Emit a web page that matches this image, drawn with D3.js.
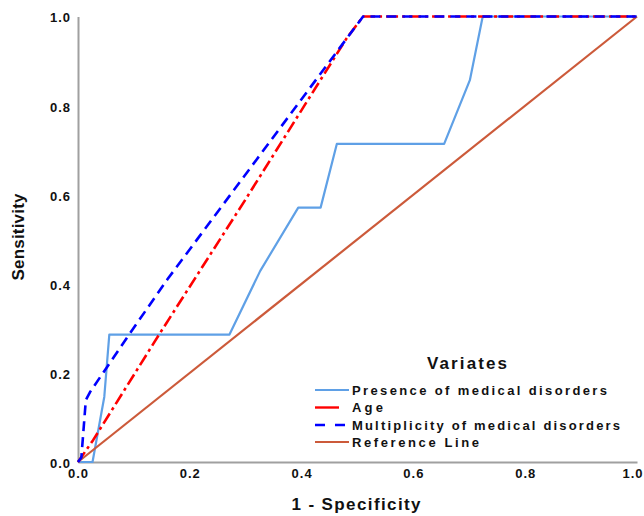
<!DOCTYPE html>
<html>
<head>
<meta charset="utf-8">
<script src="https://cdn.jsdelivr.net/npm/d3@7"></script>
<style>
  html, body { margin: 0; padding: 0; background: #fff; }
  svg { display: block; font-family: "Liberation Sans", Arial, sans-serif; }
</style>
</head>
<body>
<svg id="chart" width="644" height="516"></svg>
<script>
// ---- Data ----
const xTicks = [0.0, 0.2, 0.4, 0.6, 0.8, 1.0];
const yTicks = [0.0, 0.2, 0.4, 0.6, 0.8, 1.0];

const seriesNames = ["Presence of medical disorders", "Age", "Multiplicity of medical disorders", "Reference Line"];

const presenceX = [0, 0.026, 0.047, 0.056, 0.271, 0.326, 0.394, 0.434, 0.463, 0.655, 0.701, 0.724, 1];
const presenceY = [0, 0, 0.146, 0.286, 0.286, 0.429, 0.571, 0.571, 0.714, 0.714, 0.857, 1, 1];

const ageX = [0, 0.027, 0.145, 0.30, 0.48, 0.51, 1];
const ageY = [0, 0.049, 0.286, 0.59, 0.95, 1, 1];

const multiX = [0, 0.006, 0.014, 0.022, 0.093, 0.16, 0.51, 1];
const multiY = [0, 0.01, 0.139, 0.158, 0.289, 0.41, 1, 1];

const refX = [0, 1];
const refY = [0, 1];

// ---- Layout ----
const svg = d3.select("#chart");
const x = d3.scaleLinear().domain([0, 1]).range([78, 637]);
const y = d3.scaleLinear().domain([0, 1]).range([462, 16.5]);

const zip = (xs, ys) => xs.map((v, i) => [v, ys[i]]);
const line = d3.line().x(d => x(d[0])).y(d => y(d[1]));

// axes
const xAxis = d3.axisBottom(x).tickValues(xTicks).tickFormat(d3.format(".1f")).tickSize(0).tickPadding(7);
const yAxis = d3.axisLeft(y).tickValues(yTicks).tickFormat(d3.format(".1f")).tickSize(0).tickPadding(7);

const gx = svg.append("g").attr("transform", `translate(0,${y(0)})`).call(xAxis);
const gy = svg.append("g").attr("transform", `translate(${x(0)},0)`).call(yAxis);

[gx, gy].forEach(g => {
  g.select(".domain").attr("stroke", "#a0a0a0").attr("stroke-width", 2);
  g.selectAll("text")
    .attr("fill", "#111")
    .attr("font-size", 13)
    .attr("font-weight", "bold")
    .attr("letter-spacing", "1px")
    .attr("font-family", "'Liberation Sans', Arial, sans-serif");
});
gy.selectAll("text").attr("dy", "0.42em");
// keep the last x label inside the window
gx.selectAll(".tick").filter(d => d === 1).select("text")
  .attr("text-anchor", "end").attr("x", 644 - x(1) - 1);

// series
const series = [
  { name: seriesNames[0], pts: zip(presenceX, presenceY), color: "#5fa0e6", width: 2.2, dash: null },
  { name: seriesNames[3], pts: zip(refX, refY), color: "#cc5a3a", width: 2.2, dash: null },
  { name: seriesNames[1], pts: zip(ageX, ageY), color: "#ff0000", width: 2.6, dash: "12,4,3,4" },
  { name: seriesNames[2], pts: zip(multiX, multiY), color: "#0000ff", width: 2.6, dash: "10,6" }
];

svg.append("g").selectAll("path").data(series).join("path")
  .attr("d", d => line(d.pts))
  .attr("fill", "none")
  .attr("stroke", d => d.color)
  .attr("stroke-width", d => d.width)
  .attr("stroke-dasharray", d => d.dash)
  .attr("stroke-linejoin", "round");

// axis titles
svg.append("text")
  .attr("x", 356).attr("y", 510)
  .attr("text-anchor", "middle")
  .attr("font-size", 17).attr("font-weight", "bold").attr("fill", "#111")
  .attr("textLength", 129).attr("lengthAdjust", "spacing")
  .text("1 - Specificity");

svg.append("text")
  .attr("transform", "translate(24,237) rotate(-90)")
  .attr("text-anchor", "middle")
  .attr("font-size", 17).attr("font-weight", "bold").attr("fill", "#111")
  .attr("textLength", 87).attr("lengthAdjust", "spacing")
  .text("Sensitivity");

// legend
const legendItems = [
  { name: seriesNames[0], color: "#5fa0e6", dash: null, w: 2.2, len: 255 },
  { name: seriesNames[1], color: "#ff0000", dash: "24,20", w: 2.4, len: 31 },
  { name: seriesNames[2], color: "#0000ff", dash: "10,10", w: 2.4, len: 268 },
  { name: seriesNames[3], color: "#cc5a3a", dash: null, w: 2.2, len: 127 }
];
const rowY = [390, 407.5, 425, 442];

svg.append("text")
  .attr("x", 467).attr("y", 369)
  .attr("text-anchor", "middle")
  .attr("font-size", 17).attr("font-weight", "bold").attr("fill", "#111")
  .attr("textLength", 80).attr("lengthAdjust", "spacing")
  .text("Variates");

const lg = svg.append("g").selectAll("g").data(legendItems).join("g")
  .attr("transform", (d, i) => `translate(0,${rowY[i]})`);
lg.append("line")
  .attr("x1", 315).attr("x2", 349).attr("y1", 0).attr("y2", 0)
  .attr("stroke", d => d.color).attr("stroke-width", d => d.w)
  .attr("stroke-dasharray", d => d.dash);
lg.append("text")
  .attr("x", 352).attr("y", 4.7)
  .attr("font-size", 13).attr("font-weight", "bold").attr("fill", "#111")
  .attr("textLength", d => d.len).attr("lengthAdjust", "spacing")
  .text(d => d.name);
</script>
</body>
</html>
